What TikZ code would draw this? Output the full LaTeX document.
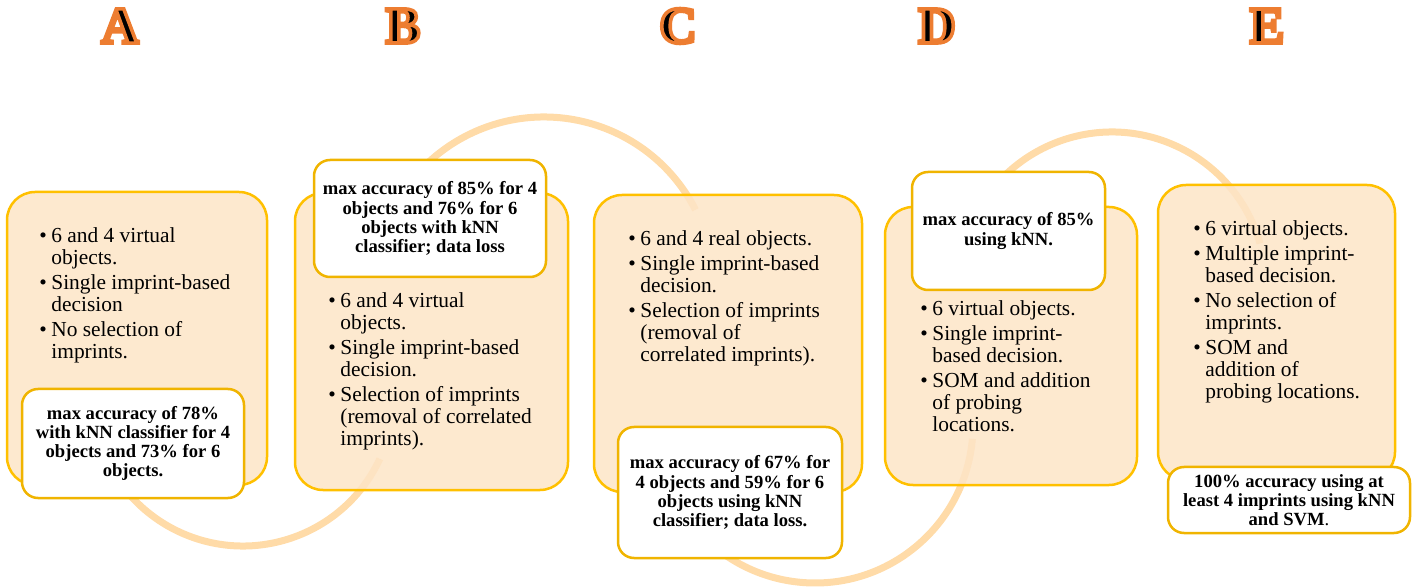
\documentclass[tikz,border=0pt]{standalone}
\usepackage{fontspec}
\setmainfont{Liberation Serif}

\definecolor{panelfill}{RGB}{253,229,199}
\definecolor{panelline}{RGB}{255,192,0}
\definecolor{noteline}{RGB}{240,180,0}
\definecolor{wavecol}{RGB}{255,219,168}

\newcommand{\bul}{\makebox[6pt][l]{\textbullet}}
\newcommand{\outl}[1]{\special{pdf:literal direct 2 Tr 1.8 w 0.929 0.490 0.192 RG}#1\special{pdf:literal direct 0 Tr}}

\tikzset{
  panel/.style={draw=panelline, line width=1.25pt, fill=panelfill, fill opacity=0.85, rounded corners=14pt, inner sep=0pt},
  note/.style={draw=noteline, line width=1.25pt, fill=white, rounded corners=8pt, align=center, inner sep=0pt, font=\fontsize{9.3}{9.6}\selectfont\bfseries},
  items/.style={anchor=north west, inner sep=0pt, font=\fontsize{10.7}{11}\selectfont},
  wave/.style={draw=wavecol, line width=3.5pt},
  letter/.style={inner sep=0pt, font=\fontsize{26}{28}\selectfont\bfseries}
}

\begin{document}
\begin{tikzpicture}[x=0.5pt,y=-0.5pt]
\useasboundingbox (0,0) rectangle (1415,588);

\coordinate (w1) at (243,395);
\coordinate (w2) at (544,287);
\coordinate (w3) at (815,425);
\coordinate (w4) at (1112,286);
\draw[wave] (w1) ++(25:151) arc[start angle=25, end angle=155, radius=151];
\draw[wave] (w2) ++(-27:170) arc[start angle=-27, end angle=-153, radius=170];
\draw[wave] (w3) ++(5:158) arc[start angle=5, end angle=175, radius=158];
\draw[wave] (w4) ++(-16:154) arc[start angle=-16, end angle=-164, radius=154];

\node[panel, minimum width=130pt, minimum height=146.5pt] (pA) at (137,338.5) {};
\node[panel, minimum width=136.5pt, minimum height=148.5pt] (pB) at (431.5,341.5) {};
\node[panel, minimum width=134pt, minimum height=148.5pt] (pC) at (728,343.5) {};
\node[panel, minimum width=126pt, minimum height=139pt] (pD) at (1011,346) {};
\node[panel, minimum width=118.5pt, minimum height=147.5pt] (pE) at (1276.5,332.5) {};

\node[note, minimum width=111pt, minimum height=54.5pt] (nA) at (133,443.5)
  {max accuracy of 78\%\\with kNN classifier for 4\\objects and 73\% for 6\\objects.};
\node[note, minimum width=116pt, minimum height=58.5pt] (nB) at (430,218.5)
  {max accuracy of 85\% for 4\\objects and 76\% for 6\\objects with kNN\\classifier; data loss};
\node[note, minimum width=112pt, minimum height=65.5pt] (nC) at (730,492.5)
  {max accuracy of 67\% for\\4 objects and 59\% for 6\\objects using kNN\\classifier; data loss.};
\node[note, minimum width=96.5pt, minimum height=59pt] (nD) at (1008.5,231)
  {max accuracy of 85\%\\using kNN.};
\node[note, minimum width=121pt, minimum height=33pt] (nE) at (1289,500)
  {100\% accuracy using at\\least 4 imprints using kNN\\and SVM{\mdseries.}};

\node[items] (lA) at (39,226.6) {\begin{tabular}{@{}l@{}l@{}}
  \bul & 6 and 4 virtual\\ & objects.\\[1.5pt]
  \bul & Single imprint-based\\ & decision\\[1.5pt]
  \bul & No selection of\\ & imprints.
\end{tabular}};
\node[items] (lB) at (328,291.6) {\begin{tabular}{@{}l@{}l@{}}
  \bul & 6 and 4 virtual\\ & objects.\\[1.5pt]
  \bul & Single imprint-based\\ & decision.\\[1.5pt]
  \bul & Selection of imprints\\ & (removal of correlated\\ & imprints).
\end{tabular}};
\node[items] (lC) at (628,229.6) {\begin{tabular}{@{}l@{}l@{}}
  \bul & 6 and 4 real objects.\\[1.5pt]
  \bul & Single imprint-based\\ & decision.\\[1.5pt]
  \bul & Selection of imprints\\ & (removal of\\ & correlated imprints).
\end{tabular}};
\node[items] (lD) at (920,299.6) {\begin{tabular}{@{}l@{}l@{}}
  \bul & 6 virtual objects.\\[1.5pt]
  \bul & Single imprint-\\ & based decision.\\[1.5pt]
  \bul & SOM and addition\\ & of probing\\ & locations.
\end{tabular}};
\node[items] (lE) at (1193,219.6) {\begin{tabular}{@{}l@{}l@{}}
  \bul & 6 virtual objects.\\[1.5pt]
  \bul & Multiple imprint-\\ & based decision.\\[1.5pt]
  \bul & No selection of\\ & imprints.\\[1.5pt]
  \bul & SOM and\\ & addition of\\ & probing locations.
\end{tabular}};

\node[letter] (hA) at (120,26) {\outl{A}};
\node[letter] (hB) at (403,26) {\outl{B}};
\node[letter] (hC) at (678,26) {\outl{C}};
\node[letter] (hD) at (937,26) {\outl{D}};
\node[letter] (hE) at (1267,26) {\outl{E}};
\end{tikzpicture}
\end{document}
